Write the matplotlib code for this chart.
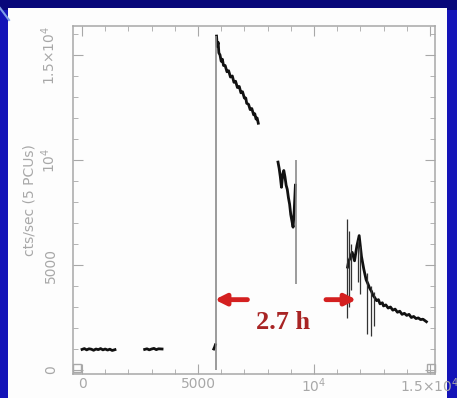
import matplotlib
matplotlib.use("Agg")
import matplotlib.pyplot as plt
from matplotlib.patches import Rectangle
from matplotlib.lines import Line2D

# light curve pieces (time in s, rate in cts/sec)
seg1_t = [0, 100, 200, 300, 400, 500, 600, 700, 800, 900, 1000, 1100, 1200, 1300, 1420]
seg1_r = [980, 1020, 960, 1010, 990, 940, 1000, 970, 1020, 960, 1000, 950, 990, 930, 970]

seg2_t = [2700, 2800, 2900, 3000, 3100, 3200, 3300, 3450]
seg2_r = [980, 1010, 960, 1000, 1030, 970, 1010, 1000]

seg3_t = [5680, 5720, 5750]
seg3_r = [1000, 1100, 1200]

seg4_t = [5800, 5830, 5870, 5900, 5950, 6000, 6050, 6100, 6170, 6250, 6320, 6400, 6480, 6550, 6620,
          6700, 6780, 6850, 6920, 7000, 7060, 7100, 7180, 7250, 7320, 7400, 7450, 7500, 7550, 7600]
seg4_r = [15900, 15400, 15600, 15100, 15000, 14700, 14800, 14500, 14500, 14200, 14250, 13950, 14000, 13700, 13750,
          13450, 13500, 13200, 13250, 12950, 12950, 12700, 12650, 12400, 12450, 12150, 12200, 11950, 12000, 11750]

seg5_t = [8450, 8500, 8550, 8600, 8650, 8700, 8750, 8800, 8850, 8900, 8950, 9000, 9050, 9100, 9150, 9200]
seg5_r = [9900, 9600, 9200, 8700, 9300, 9500, 9200, 8800, 8600, 8200, 7900, 7400, 7100, 6800, 7600, 8800]

seg6_t = [11450, 11500, 11550, 11650, 11750, 11850, 11950, 12050, 12150, 12250, 12330, 12400, 12480, 12550,
          12620, 12700, 12780, 12850, 12950, 13000, 13100, 13200, 13300, 13400, 13500, 13600, 13700, 13800,
          13900, 14000, 14100, 14200, 14300, 14400, 14500, 14600, 14700, 14850]
seg6_r = [4900, 5200, 5300, 5600, 5200, 5900, 6400, 5400, 4800, 4300, 4100, 3900, 3750, 3550,
          3450, 3300, 3350, 3150, 3200, 3050, 3100, 2950, 3000, 2850, 2900, 2750, 2800, 2650,
          2700, 2600, 2650, 2500, 2550, 2450, 2480, 2400, 2420, 2300]

# vertical flare/gap lines
gap_t = [5760, 9240]
gap_lo = [0, 4100]
gap_hi = [15900, 10000]

spike_t = [11420, 11500, 11600, 11900, 12000, 12300, 12450, 12600]
spike_lo = [2500, 3000, 3800, 4200, 3600, 1700, 1600, 2100]
spike_hi = [7200, 6600, 6000, 6200, 5900, 4600, 4000, 3700]

xticks = [0, 5000, 10000, 15000]
xtick_labels = ["0", "5000", r"10$^4$", r"1.5$\times$10$^4$"]
yticks = [0, 5000, 10000, 15000]
ytick_labels = ["0", "5000", r"10$^4$", r"1.5$\times$10$^4$"]

fig = plt.figure(figsize=(4.57, 3.98), dpi=100)
fig.patch.set_facecolor("#1414b8")

# slide frame: dark top strip and white panel (behind the axes)
fig.patches.append(Rectangle((0, 0.975), 1, 0.025, transform=fig.transFigure,
                             facecolor="#08087a", edgecolor="none", zorder=-3))
fig.patches.append(Rectangle((8 / 457, 0), 439 / 457, 390 / 398, transform=fig.transFigure,
                             facecolor="#fdfdfd", edgecolor="none", zorder=-2))
fig.lines.append(Line2D([0, 9 / 457], [1 - 8 / 398, 1 - 20 / 398], transform=fig.transFigure,
                        color="#7f9fe8", lw=1.5, zorder=-1))

ax = fig.add_axes([73 / 457, 24 / 398, 362 / 457, 348 / 398])
ax.set_facecolor("none")

gray = "#a8a8a8"
for t, r in [(seg1_t, seg1_r), (seg2_t, seg2_r), (seg3_t, seg3_r),
             (seg4_t, seg4_r), (seg5_t, seg5_r), (seg6_t, seg6_r)]:
    ax.plot(t, r, color="#111111", lw=2.0, solid_joinstyle="round")
ax.vlines(gap_t, gap_lo, gap_hi, color="#8a8a8a", lw=1.2)
ax.vlines(spike_t, spike_lo, spike_hi, color="#333333", lw=0.9)

ax.set_xlim(-390, 15220)
ax.set_ylim(-190, 16380)

ax.set_xticks(xticks)
ax.set_xticklabels(xtick_labels, color=gray, fontsize=10)
ax.set_yticks(yticks)
ax.set_yticklabels(ytick_labels, color=gray, fontsize=10, rotation=90, va="center")
ax.set_xticks(range(0, 15001, 1000), minor=True)
ax.set_yticks(range(0, 16001, 1000), minor=True)
ax.tick_params(which="both", direction="in", top=True, right=True, color=gray)
ax.tick_params(which="major", length=7)
ax.tick_params(axis="x", which="major", pad=2)
ax.tick_params(axis="y", which="major", pad=11)
ax.tick_params(which="minor", length=3.5)
for s in ax.spines.values():
    s.set_color(gray)
    s.set_linewidth(1.1)

ax.set_ylabel("cts/sec (5 PCUs)", color=gray, fontsize=10, labelpad=2)

# little boxes at the bottom corners
ax.plot([0.012, 0.988], [0.018, 0.018], transform=ax.transAxes, ls="none",
        marker="s", ms=6, mfc="none", mec=gray, mew=1, clip_on=False)

# 2.7 h annotation
red = "#d42020"
ax.annotate("", xy=(5600, 3350), xytext=(7250, 3350),
            arrowprops=dict(arrowstyle="-|>", color=red, lw=3.5, mutation_scale=16))
ax.annotate("", xy=(11950, 3350), xytext=(10400, 3350),
            arrowprops=dict(arrowstyle="-|>", color=red, lw=3.5, mutation_scale=16))
ax.text(8650, 2250, "2.7 h", color="#a82424", fontsize=19, fontweight="bold",
        family="Liberation Serif", ha="center", va="center")

fig.savefig("out.png", dpi=100, facecolor=fig.get_facecolor())
